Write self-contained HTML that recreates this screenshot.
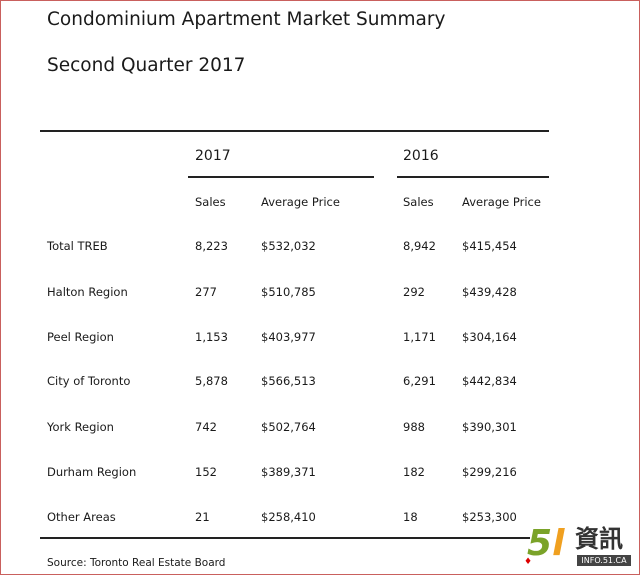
<!DOCTYPE html>
<html><head><meta charset="utf-8"><style>
body{margin:0;width:640px;height:575px;overflow:hidden;background:#fff;font-family:"DejaVu Sans",Verdana,sans-serif;color:#1a1a1a}
.b{position:absolute;left:0;top:0;width:638px;height:573px;border:1px solid #c9605d}
.t{position:absolute;white-space:nowrap;font-size:11.5px;line-height:14px}
.h{position:absolute;white-space:nowrap;font-size:18.5px;line-height:22px}
.l{position:absolute;height:2px;background:#222}
</style></head><body><div class="b"></div>
<div class="h" style="left:47px;top:9px">Condominium Apartment Market Summary</div>
<div class="h" style="left:47px;top:55px">Second Quarter 2017</div>
<div class="l" style="left:40px;top:130px;width:509px"></div>
<div class="t" style="left:195px;top:148px;font-size:14px;line-height:16px">2017</div>
<div class="t" style="left:403px;top:148px;font-size:14px;line-height:16px">2016</div>
<div class="l" style="left:188px;top:176px;width:186px"></div>
<div class="l" style="left:397px;top:176px;width:152px"></div>
<div class="t" style="left:195px;top:195px">Sales</div>
<div class="t" style="left:261px;top:195px">Average Price</div>
<div class="t" style="left:403px;top:195px">Sales</div>
<div class="t" style="left:462px;top:195px">Average Price</div>
<div class="t" style="left:47px;top:239px">Total TREB</div><div class="t" style="left:195px;top:239px">8,223</div><div class="t" style="left:261px;top:239px">$532,032</div><div class="t" style="left:403px;top:239px">8,942</div><div class="t" style="left:462px;top:239px">$415,454</div>
<div class="t" style="left:47px;top:285px">Halton Region</div><div class="t" style="left:195px;top:285px">277</div><div class="t" style="left:261px;top:285px">$510,785</div><div class="t" style="left:403px;top:285px">292</div><div class="t" style="left:462px;top:285px">$439,428</div>
<div class="t" style="left:47px;top:330px">Peel Region</div><div class="t" style="left:195px;top:330px">1,153</div><div class="t" style="left:261px;top:330px">$403,977</div><div class="t" style="left:403px;top:330px">1,171</div><div class="t" style="left:462px;top:330px">$304,164</div>
<div class="t" style="left:47px;top:374px">City of Toronto</div><div class="t" style="left:195px;top:374px">5,878</div><div class="t" style="left:261px;top:374px">$566,513</div><div class="t" style="left:403px;top:374px">6,291</div><div class="t" style="left:462px;top:374px">$442,834</div>
<div class="t" style="left:47px;top:420px">York Region</div><div class="t" style="left:195px;top:420px">742</div><div class="t" style="left:261px;top:420px">$502,764</div><div class="t" style="left:403px;top:420px">988</div><div class="t" style="left:462px;top:420px">$390,301</div>
<div class="t" style="left:47px;top:465px">Durham Region</div><div class="t" style="left:195px;top:465px">152</div><div class="t" style="left:261px;top:465px">$389,371</div><div class="t" style="left:403px;top:465px">182</div><div class="t" style="left:462px;top:465px">$299,216</div>
<div class="t" style="left:47px;top:510px">Other Areas</div><div class="t" style="left:195px;top:510px">21</div><div class="t" style="left:261px;top:510px">$258,410</div><div class="t" style="left:403px;top:510px">18</div><div class="t" style="left:462px;top:510px">$253,300</div>
<div class="l" style="left:40px;top:537px;width:490px"></div>
<div class="t" style="left:47px;top:556px;font-size:10.5px">Source: Toronto Real Estate Board</div>
<div class="t" style="left:527px;top:524px;font-size:36px;line-height:40px;font-weight:bold;font-style:italic;color:#7aa329">5<span style="color:#f0a020">l</span></div>
<div class="t" style="left:524px;top:555px;color:#d00;font-size:9px">♦</div>
<div class="t" style="left:575px;top:526px;font-size:24px;line-height:26px;font-weight:bold;color:#333">資訊</div>
<div class="t" style="left:577px;top:555px;width:54px;height:11px;background:#444;color:#fff;font-size:8px;line-height:11px;text-align:center">INFO.51.CA</div>
</body></html>
